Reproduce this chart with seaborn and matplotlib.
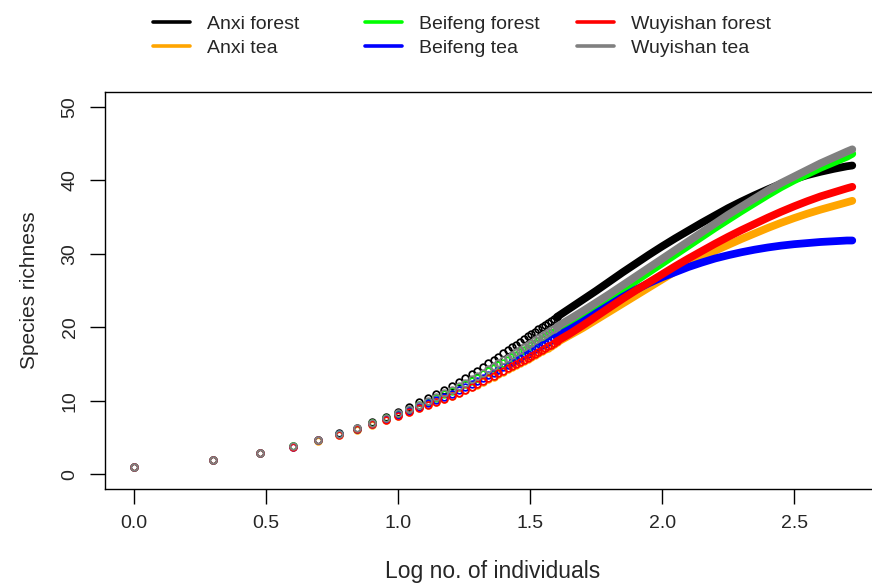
import matplotlib
matplotlib.use('Agg')
import matplotlib.pyplot as plt
import seaborn as sns
from matplotlib.lines import Line2D

# --- 1. Values ---
sites = ['Anxi forest', 'Anxi tea', 'Beifeng forest', 'Beifeng tea',
         'Wuyishan forest', 'Wuyishan tea']
colors = ['black', '#FFA500', '#00FF00', '#0000FF', '#FF0000', '#808080']

# log10 of 1..40 individuals, drawn as open circles
log_n_low = [0.000, 0.301, 0.477, 0.602, 0.699, 0.778, 0.845, 0.903, 0.954, 1.000,
             1.041, 1.079, 1.114, 1.146, 1.176, 1.204, 1.230, 1.255, 1.279, 1.301,
             1.322, 1.342, 1.362, 1.380, 1.398, 1.415, 1.431, 1.447, 1.462, 1.477,
             1.491, 1.505, 1.519, 1.531, 1.544, 1.556, 1.568, 1.580, 1.591, 1.602]
# bigger samples, where the circles merge into a thick band
log_n_high = [1.65, 1.70, 1.75, 1.80, 1.85, 1.90, 1.95, 2.00, 2.05, 2.10, 2.15, 2.20,
              2.25, 2.30, 2.35, 2.40, 2.45, 2.50, 2.55, 2.60, 2.65, 2.70, 2.72]

anxi_forest_low = [1.0, 1.97, 2.92, 3.84, 4.72, 5.56, 6.36, 7.12, 7.84, 8.52,
                   9.17, 9.78, 10.4, 10.95, 11.5, 12.05, 12.6, 13.1, 13.6, 14.1,
                   14.6, 15.1, 15.55, 16.0, 16.45, 16.85, 17.25, 17.65, 18.05, 18.4,
                   18.75, 19.1, 19.4, 19.7, 20.0, 20.3, 20.6, 20.9, 21.15, 21.4]
anxi_forest_high = [22.55, 23.75, 24.95, 26.2, 27.45, 28.65, 29.85, 31.0, 32.1, 33.15, 34.2, 35.2,
                    36.2, 37.1, 37.95, 38.75, 39.5, 40.15, 40.7, 41.15, 41.55, 41.9, 42.0]

anxi_tea_low = [1.0, 1.95, 2.88, 3.76, 4.59, 5.37, 6.09, 6.76, 7.38, 7.95,
                8.47, 8.96, 9.40, 9.83, 10.24, 10.63, 11.03, 11.42, 11.82, 12.21,
                12.61, 12.95, 13.29, 13.64, 13.98, 14.28, 14.57, 14.87, 15.16, 15.46,
                15.71, 16.0, 16.25, 16.5, 16.75, 16.99, 17.24, 17.49, 17.69, 17.94]
anxi_tea_high = [18.9, 19.9, 21.0, 22.1, 23.2, 24.3, 25.4, 26.5, 27.6, 28.6, 29.5, 30.4,
                 31.2, 32.0, 32.75, 33.5, 34.2, 34.85, 35.45, 36.0, 36.5, 37.0, 37.2]

beifeng_forest_low = [1.0, 1.96, 2.90, 3.80, 4.66, 5.46, 6.22, 6.94, 7.61, 8.23,
                      8.81, 9.37, 9.90, 10.38, 10.86, 11.33, 11.81, 12.25, 12.70, 13.15,
                      13.59, 14.01, 14.41, 14.81, 15.20, 15.55, 15.90, 16.25, 16.59, 16.92,
                      17.21, 17.54, 17.81, 18.08, 18.36, 18.63, 18.9, 19.18, 19.4, 19.65]
beifeng_forest_high = [20.6, 21.65, 22.75, 23.9, 25.1, 26.3, 27.5, 28.7, 29.9, 31.1, 32.3, 33.5,
                       34.65, 35.8, 36.9, 38.0, 39.05, 40.0, 40.85, 41.7, 42.45, 43.2, 43.6]

beifeng_tea_low = [1.0, 1.95, 2.89, 3.78, 4.62, 5.42, 6.15, 6.85, 7.49, 8.09,
                   8.63, 9.16, 9.64, 10.09, 10.54, 10.97, 11.4, 11.82, 12.24, 12.66,
                   13.08, 13.46, 13.83, 14.20, 14.57, 14.89, 15.21, 15.53, 15.85, 16.16,
                   16.43, 16.74, 17.0, 17.26, 17.52, 17.78, 18.04, 18.3, 18.51, 18.76]
beifeng_tea_high = [19.7, 20.75, 21.9, 23.0, 24.1, 25.1, 26.0, 26.8, 27.5, 28.2, 28.8, 29.35,
                    29.8, 30.2, 30.55, 30.85, 31.1, 31.3, 31.45, 31.6, 31.7, 31.8, 31.8]

wuyishan_forest_low = [1.0, 1.95, 2.88, 3.76, 4.6, 5.38, 6.1, 6.78, 7.4, 7.98,
                       8.5, 9.0, 9.45, 9.88, 10.3, 10.7, 11.1, 11.5, 11.9, 12.3,
                       12.7, 13.05, 13.4, 13.75, 14.1, 14.4, 14.7, 15.0, 15.3, 15.6,
                       15.85, 16.15, 16.4, 16.65, 16.9, 17.15, 17.4, 17.65, 17.85, 18.1]
wuyishan_forest_high = [19.1, 20.25, 21.45, 22.65, 23.85, 25.0, 26.1, 27.2, 28.3, 29.35, 30.35, 31.35,
                        32.3, 33.2, 34.05, 34.9, 35.7, 36.45, 37.15, 37.8, 38.35, 38.9, 39.1]

wuyishan_tea_low = [1.0, 1.96, 2.90, 3.81, 4.67, 5.49, 6.26, 6.98, 7.66, 8.30,
                    8.90, 9.47, 10.02, 10.52, 11.02, 11.51, 12.0, 12.46, 12.92, 13.38,
                    13.84, 14.28, 14.69, 15.10, 15.51, 15.87, 16.23, 16.59, 16.95, 17.28,
                    17.59, 17.92, 18.2, 18.48, 18.76, 19.04, 19.32, 19.6, 19.83, 20.08]
wuyishan_tea_high = [21.1, 22.2, 23.35, 24.5, 25.7, 26.9, 28.1, 29.3, 30.5, 31.7, 32.9, 34.1,
                     35.3, 36.4, 37.5, 38.6, 39.6, 40.5, 41.4, 42.3, 43.1, 43.9, 44.2]

low_curves = [anxi_forest_low, anxi_tea_low, beifeng_forest_low,
              beifeng_tea_low, wuyishan_forest_low, wuyishan_tea_low]
high_curves = [anxi_forest_high, anxi_tea_high, beifeng_forest_high,
               beifeng_tea_high, wuyishan_forest_high, wuyishan_tea_high]

# --- 2. Style ---
sns.set_style('ticks')
plt.rcParams['font.family'] = ['Liberation Sans', 'DejaVu Sans']

fig = plt.figure(figsize=(8.72, 5.87), dpi=100)
# plot box; the right edge runs just past the picture as in the reference
ax = fig.add_axes([105 / 872, 1 - 489 / 587, (881 - 105) / 872, (489 - 92) / 587])

# --- 3. Curves: open circles for small samples, thick band after that ---
for color, low, high in zip(colors, low_curves, high_curves):
    sns.lineplot(x=log_n_low[-1:] + log_n_high, y=low[-1:] + high, ax=ax,
                 color=color, lw=5.6, solid_capstyle='round', sort=False,
                 estimator=None)
    sns.lineplot(x=log_n_low, y=low, ax=ax, color=color, linestyle='',
                 marker='o', markersize=4.8, markerfacecolor='none',
                 markeredgecolor=color, markeredgewidth=1.25, sort=False,
                 estimator=None)

ax.set_xlim(-0.1088, 2.8288)
ax.set_ylim(-2, 52)
ax.set_xticks([0.0, 0.5, 1.0, 1.5, 2.0, 2.5])
ax.set_xticklabels(['0.0', '0.5', '1.0', '1.5', '2.0', '2.5'])
ax.set_yticks([0, 10, 20, 30, 40, 50])
ax.tick_params(direction='out', length=11, width=1, color='black',
               labelsize=14, pad=8)
ax.tick_params(axis='y', labelrotation=90)
for lab in ax.get_yticklabels():
    lab.set_va('center')
for side in ['left', 'right', 'top', 'bottom']:
    ax.spines[side].set_visible(True)
    ax.spines[side].set_color('black')
    ax.spines[side].set_linewidth(1.0)

ax.set_xlabel('Log no. of individuals', fontsize=16.5, labelpad=20)
ax.set_ylabel('Species richness', fontsize=15, labelpad=16)

# --- 4. Legend across the top, three columns ---
legend_cols = [(0, 1, 150), (2, 3, 362), (4, 5, 574)]
for i, j, x0 in legend_cols:
    handles = [Line2D([], [], color=colors[k], lw=2.6) for k in (i, j)]
    fig.legend(handles, [sites[i], sites[j]], loc='upper left',
               bbox_to_anchor=(x0 / 872 - 0.012, 0.997), frameon=False,
               fontsize=14, handlelength=1.9, handletextpad=0.85,
               labelspacing=0.33, borderaxespad=0.3)

plt.savefig('out.png', dpi=100)
print("saved out.png")
